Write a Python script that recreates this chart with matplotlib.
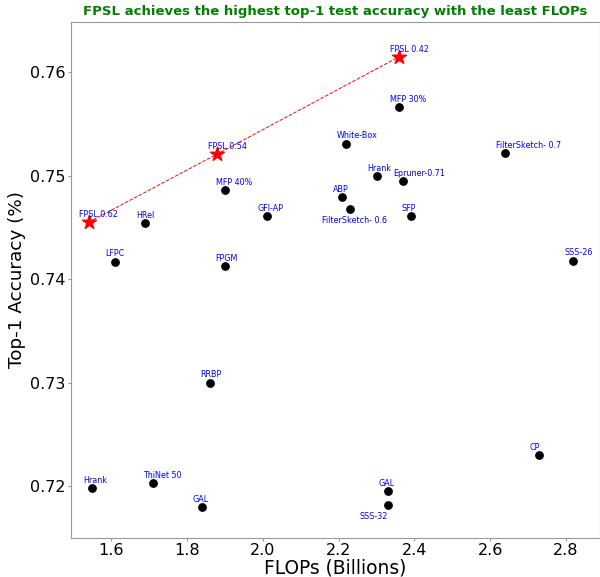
import matplotlib
matplotlib.use("Agg")
import matplotlib.pyplot as plt

# FPSL results (red stars, joined by a dashed line)
fpsl_labels = ["FPSL 0.62", "FPSL 0.54", "FPSL 0.42"]
fpsl_flops = [1.54, 1.88, 2.36]
fpsl_acc = [0.7455, 0.7521, 0.7615]

# other methods (black dots)
labels = ["MFP 30%", "White-Box", "FilterSketch- 0.7", "Hrank", "Epruner-0.71",
          "MFP 40%", "ABP", "FilterSketch- 0.6", "SFP", "GFI-AP", "HRel",
          "LFPC", "FPGM", "SSS-26", "RRBP", "CP", "Hrank", "ThiNet 50",
          "GAL", "GAL", "SSS-32"]
flops = [2.36, 2.22, 2.64, 2.30, 2.37,
         1.90, 2.21, 2.23, 2.39, 2.01, 1.69,
         1.61, 1.90, 2.82, 1.86, 2.73, 1.55, 1.71,
         1.84, 2.33, 2.33]
acc = [0.7566, 0.7531, 0.7522, 0.7500, 0.7495,
       0.7486, 0.7479, 0.7468, 0.7461, 0.7461, 0.7454,
       0.7417, 0.7413, 0.7418, 0.7300, 0.7230, 0.7198, 0.7203,
       0.7180, 0.7195, 0.7182]
below = {"FilterSketch- 0.6", "SSS-32"}

fig = plt.figure(figsize=(6, 5.77), dpi=100)
ax = fig.add_axes([0.118, 0.068, 0.882, 0.8946])

ax.plot(fpsl_flops, fpsl_acc, color="red", linestyle="--", linewidth=0.7, zorder=2)
ax.scatter(fpsl_flops, fpsl_acc, marker="*", color="red", s=110, zorder=3)
for lab, x, y in zip(fpsl_labels, fpsl_flops, fpsl_acc):
    ax.text(x - 0.025, y + 0.0005, lab, fontsize=5.8, color="blue", ha="left")

ax.scatter(flops, acc, color="black", s=28, zorder=3)
for lab, x, y in zip(labels, flops, acc):
    if lab in below:
        ax.text(x - 0.075, y - 0.0007, lab, fontsize=5.8, color="blue",
                ha="left", va="top")
    else:
        ax.text(x - 0.025, y + 0.0005, lab, fontsize=5.8, color="blue", ha="left")

ax.set_xlim(1.493, 2.89)
ax.set_ylim(0.7150, 0.7649)
ax.set_xticks([1.6, 1.8, 2.0, 2.2, 2.4, 2.6, 2.8])
ax.set_yticks([0.72, 0.73, 0.74, 0.75, 0.76])
ax.tick_params(labelsize=11.5, color="#999999", length=2, pad=2)
for s in ax.spines.values():
    s.set_edgecolor("#999999")

ax.set_xlabel("FLOPs (Billions)", fontsize=13.4, labelpad=0)
ax.set_ylabel("Top-1 Accuracy (%)", fontsize=13.2, labelpad=3)
ax.set_title("FPSL achieves the highest top-1 test accuracy with the least FLOPs",
             fontsize=9.5, color="green", fontweight="bold", pad=5)

fig.savefig("out.png", dpi=100)
